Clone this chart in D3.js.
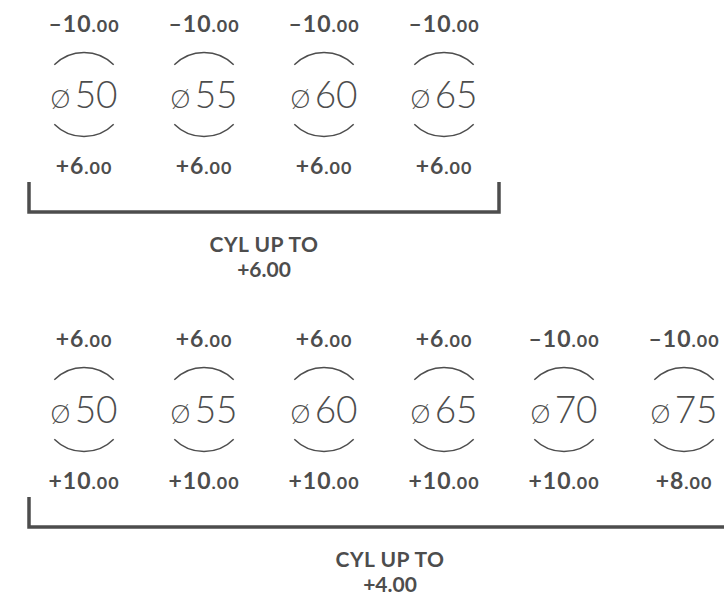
<!DOCTYPE html>
<html><head><meta charset="utf-8">
<script src="https://cdn.jsdelivr.net/npm/d3@7"></script>
<style>html,body{margin:0;padding:0;background:#fff;} svg{display:block;}</style>
</head><body>
<script>
// Data
const diameters1 = [50, 55, 60, 65];
const topValues1 = [-10, -10, -10, -10];
const bottomValues1 = [6, 6, 6, 6];
const cyl1 = 6;

const diameters2 = [50, 55, 60, 65, 70, 75];
const topValues2 = [6, 6, 6, 6, -10, -10];
const bottomValues2 = [10, 10, 10, 10, 10, 8];
const cyl2 = 4;

const cylLabel = "CYL UP TO";

const W = 724, H = 596;
const color = "#4d4d4d";
const svg = d3.select("body").append("svg").attr("width", W).attr("height", H);

const x = d3.scaleLinear().domain([0, 5]).range([84, 684]);

function valueText(sel, v, size) {
  const sign = v < 0 ? "\u2013" : "+";
  sel.append("tspan").attr("font-weight", 700).attr("font-size", size).text(sign + Math.abs(v));
  sel.append("tspan").attr("font-weight", 700).attr("font-size", size * 0.78).text(".00");
}

function group(y0, diameters, tops, bottoms, cyl, bracketRight) {
  const g = svg.append("g").attr("transform", `translate(0,${y0})`);
  const items = g.selectAll("g.item").data(diameters).join("g").attr("class", "item")
    .attr("transform", (d, i) => `translate(${x(i)},0)`);

  items.append("text").attr("y", 32).attr("text-anchor", "middle")
    .attr("font-family", "Lato").attr("fill", color).attr("letter-spacing", 1)
    .each(function(d, i) { valueText(d3.select(this), tops[i], 23); });

  items.append("text").attr("y", 174).attr("text-anchor", "middle")
    .attr("font-family", "Lato").attr("fill", color).attr("letter-spacing", 1)
    .each(function(d, i) { valueText(d3.select(this), bottoms[i], 23); });

  const r = 42, cy = 94.5;
  items.append("path").attr("fill", "none").attr("stroke", color).attr("stroke-width", 1.5)
    .attr("d", () => { const p = d3.path(); p.arc(0, cy, r, -Math.PI * 3 / 4, -Math.PI / 4); return p.toString(); });
  items.append("path").attr("fill", "none").attr("stroke", color).attr("stroke-width", 1.5)
    .attr("d", () => { const p = d3.path(); p.arc(0, cy, r, Math.PI / 4, Math.PI * 3 / 4); return p.toString(); });

  const dt = items.append("text").attr("y", 108).attr("text-anchor", "middle")
    .attr("font-family", "Lato").attr("font-weight", 300).attr("fill", color);
  dt.append("tspan").attr("font-size", 25).text("\u00D8");
  dt.append("tspan").attr("font-size", 16).text(" ");
  dt.append("tspan").attr("font-size", 37).text(d => d);

  // bracket
  const bl = 29, by = 212;
  g.append("path").attr("fill", "none").attr("stroke", color).attr("stroke-width", 3.5)
    .attr("d", `M${bl},182 V${by} H${bracketRight} V182`);

  const cx = (bl + bracketRight) / 2;
  g.append("text").attr("text-anchor", "middle").attr("font-family", "Lato")
    .attr("font-weight", 700).attr("font-size", 21).attr("letter-spacing", 0.5).attr("fill", color)
    .attr("x", cx).attr("y", 252).text(cylLabel);
  g.append("text").attr("text-anchor", "middle").attr("font-family", "Lato")
    .attr("font-weight", 700).attr("font-size", 21).attr("fill", color)
    .attr("x", cx).attr("y", 277).text("+" + cyl.toFixed(2));
}

group(0, diameters1, topValues1, bottomValues1, cyl1, 499);
group(315, diameters2, topValues2, bottomValues2, cyl2, 751);
</script>
</body></html>
